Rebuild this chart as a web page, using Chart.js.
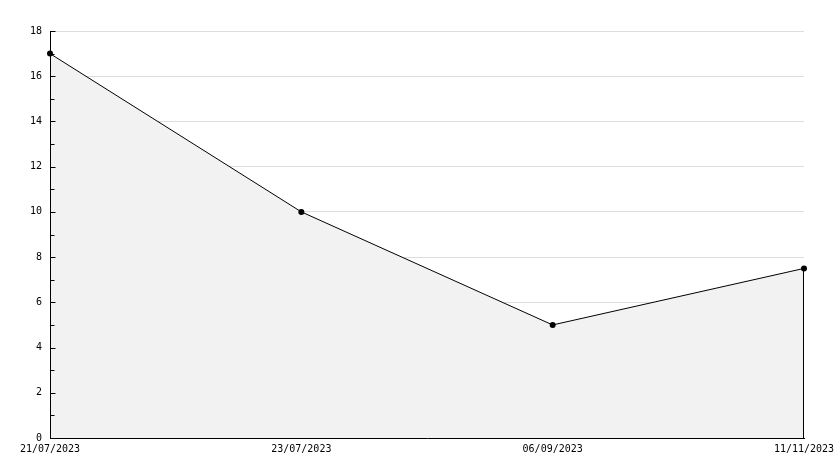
<!DOCTYPE html>
<html>
<head>
<meta charset="utf-8">
<script src="https://cdn.jsdelivr.net/npm/chart.js@4/dist/chart.umd.min.js"></script>
<style>
  html, body { margin: 0; padding: 0; background: #fff; }
  #wrap { width: 834px; height: 468px; }
</style>
</head>
<body>
<div id="wrap"><canvas id="chart" width="834" height="468"></canvas></div>
<script>
// ---- Data ----
const dates = ["21/07/2023", "23/07/2023", "06/09/2023", "11/11/2023"];
const values = [17, 10, 5, 7.5];
const yMin = 0;
const yMax = 18;

const FONT = { family: "'DejaVu Sans Mono', monospace", size: 10 };

// y axis line, inward tick marks and the closing edge of the filled area
const extras = {
	id: "extras",
	afterDatasetsDraw(chart) {
		const { ctx, chartArea, scales } = chart;
		const y = scales.y;
		const ax = Math.round(chartArea.left) + 0.5;
		ctx.save();
		ctx.strokeStyle = "#000";
		ctx.lineWidth = 1;
		ctx.beginPath();
		ctx.moveTo(ax, chartArea.top);
		ctx.lineTo(ax, chartArea.bottom);
		ctx.stroke();
		y.ticks.forEach((t) => {
			const py = Math.round(y.getPixelForValue(t.value)) + 0.5;
			const len = t.value % 2 === 0 ? 5 : 4;
			ctx.beginPath();
			ctx.moveTo(ax, py);
			ctx.lineTo(ax + len, py);
			ctx.stroke();
		});
		const pts = chart.getDatasetMeta(0).data;
		const last = pts[pts.length - 1];
		const px = Math.round(last.x) - 0.5;
		ctx.beginPath();
		ctx.moveTo(px, last.y);
		ctx.lineTo(px, chartArea.bottom);
		ctx.stroke();
		ctx.restore();
	},
};

new Chart(document.getElementById("chart"), {
	type: "line",
	data: {
		labels: dates,
		datasets: [
			{
				data: values,
				borderColor: "#000",
				borderWidth: 1,
				backgroundColor: "#f2f2f2",
				fill: "origin",
				tension: 0,
				pointRadius: 3,
				pointBackgroundColor: "#000",
				pointBorderColor: "#000",
				pointBorderWidth: 0,
			},
		],
	},
	options: {
		responsive: false,
		animation: false,
		layout: { padding: { top: 31, right: 0, left: 0, bottom: 0 } },
		plugins: { legend: { display: false }, tooltip: { enabled: false } },
		scales: {
			x: {
				offset: false,
				afterFit: (s) => {
					s.height = 30;
					s.paddingLeft = 0;
					s.paddingRight = 30;
				},
				grid: { display: false, drawTicks: false },
				border: { display: true, color: "#000", width: 1 },
				ticks: { color: "#000", font: FONT, padding: 5, maxRotation: 0, autoSkip: false },
			},
			y: {
				min: yMin,
				max: yMax,
				afterFit: (s) => { s.width = 50; },
				grid: {
					drawTicks: false,
					color: (c) => (c.tick && c.tick.value % 2 === 0 ? "#dddddd" : "rgba(0,0,0,0)"),
				},
				border: { display: false },
				ticks: {
					stepSize: 1,
					color: "#000",
					font: FONT,
					padding: 8,
					callback: (v) => (v % 2 === 0 ? String(v) : ""),
				},
			},
		},
	},
	plugins: [extras],
});
</script>
</body>
</html>
